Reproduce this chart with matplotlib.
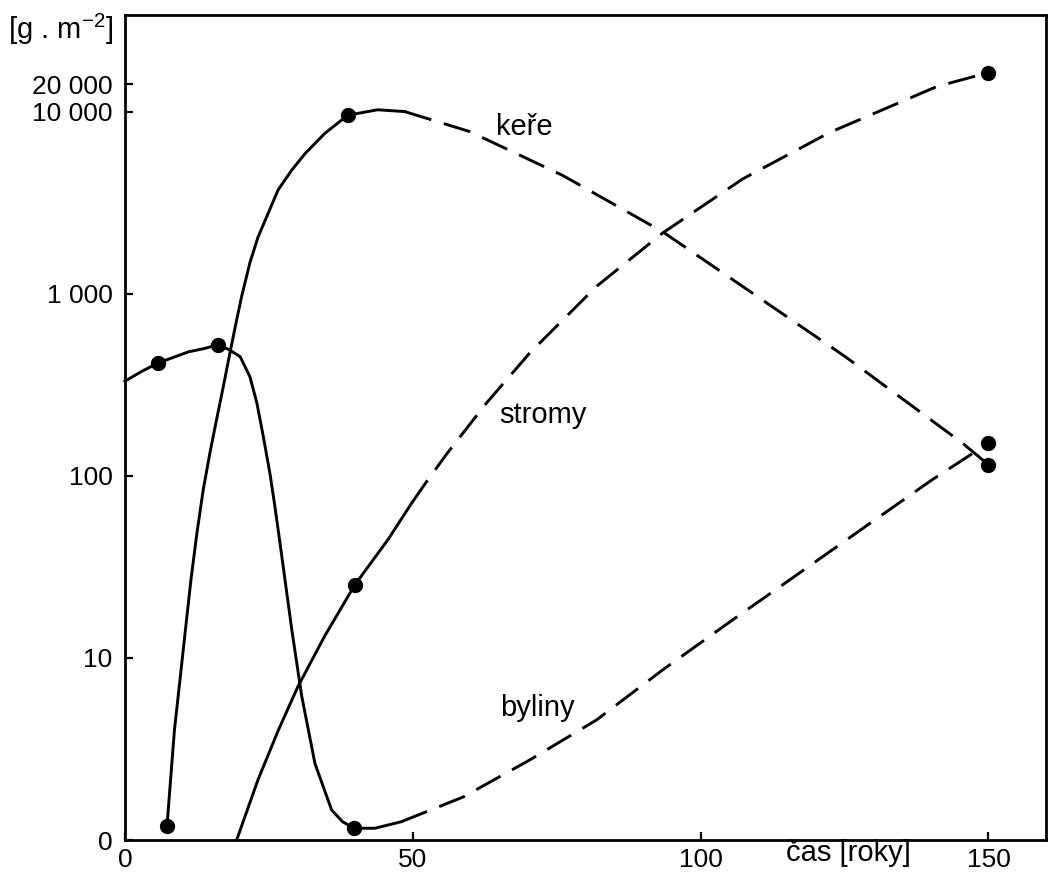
import numpy as np
import matplotlib.pyplot as plt
from matplotlib import font_manager
from matplotlib.ticker import NullLocator

# hodnoty (čas v rocích, biomasa v g.m-2)
byliny_pts_x = [5.8, 16.2, 39.8, 150]
byliny_pts_y = [417, 525, 1.16, 151]
kere_pts_x = [7.3, 38.7, 150]
kere_pts_y = [1.2, 9550, 115]
stromy_pts_x = [39.9, 150]
stromy_pts_y = [25.1, 26800]

# průběh křivek - plná část
byliny_x = [0, 3, 5.8, 11, 13.9, 16.2, 18.2, 20.0, 21.7, 22.9, 24.0, 25.2, 26.0, 26.8,
            29.0, 30.7, 33.0, 35.9, 37.8, 39.8, 43.4, 48.0]
byliny_y = [331, 376, 417, 479, 501, 525, 490, 451, 350, 252, 166, 102, 69.2, 45.7,
            14.1, 6.17, 2.63, 1.46, 1.26, 1.16, 1.16, 1.26]
kere_x = [7.3, 8.59, 9.55, 10.50, 11.46, 12.5, 13.59, 14.76, 15.9, 17.07, 18.23, 19.39,
          20.3, 21.7, 23.1, 26.6, 29.0, 31.3, 34.7, 38.7, 43.9, 48.6]
kere_y = [1.2, 4.02, 7.57, 14.3, 26.9, 48.6, 83.8, 134, 203, 308, 473, 716,
          977, 1479, 2042, 3715, 4786, 5888, 7586, 9550, 10470, 10000]
stromy_x = [19.4, 23.1, 26.6, 30.0, 34.7, 39.9, 45.7, 49.8]
stromy_y = [1, 2.14, 3.98, 6.92, 13.2, 25.1, 44.7, 70.8]

# čárkovaná část (odhad)
byliny_dx = [48.0, 58.7, 70.3, 81.9, 93.4, 105.6, 117.2, 128.8, 140.3, 150]
byliny_dy = [1.26, 1.72, 2.75, 4.56, 8.59, 16.2, 29.3, 53.1, 95.5, 151]
kere_dx = [48.6, 59.9, 76.0, 93.4, 107.3, 125.3, 145.5, 150]
kere_dy = [10000, 7762, 4467, 2188, 1096, 447, 151, 115]
stromy_dx = [49.8, 52.4, 55.9, 62.8, 70.3, 81.9, 93.4, 107.3, 122.4, 141.0, 150]
stromy_dy = [70.8, 93, 132, 251, 472, 1096, 2153, 4266, 7674, 18800, 26800]

yticks = [1, 10, 100, 1000, 10000, 20000]
ytick_labels = ['0', '10', '100', '1 000', '10 000', '20 000']
xticks = [0, 50, 100, 150]
xtick_labels = ['0', '50', '100', '150']

names = {f.name for f in font_manager.fontManager.ttflist}
num_font = 'Liberation Sans Narrow' if 'Liberation Sans Narrow' in names else 'Liberation Sans'
num_size = 21 if num_font == 'Liberation Sans Narrow' else 19
plt.rcParams['font.family'] = ['Liberation Sans', 'DejaVu Sans']
plt.rcParams['mathtext.fontset'] = 'custom'
plt.rcParams['mathtext.rm'] = 'Liberation Sans'
plt.rcParams['mathtext.it'] = 'Liberation Sans'


# osa y: logaritmická, nad 10 000 stlačená
def fwd(y):
    l = np.log10(np.clip(y, 1e-6, None))
    return np.where(l > 4, 4 + (l - 4) * 0.5, l)


def inv(s):
    return 10 ** np.where(s > 4, 4 + (s - 4) / 0.5, s)


fig = plt.figure(figsize=(10.48, 8.76), dpi=100)
ax = fig.add_axes([125 / 1048, 36 / 876, 921 / 1048, 825 / 876])
ax.set_yscale('function', functions=(fwd, inv))
ax.set_xlim(0, 160)
ax.set_ylim(1, 1.15e5)

lw = 2.1
dash = (0, (9.5, 4.5))
for x, y in [(byliny_x, byliny_y), (kere_x, kere_y), (stromy_x, stromy_y)]:
    ax.plot(x, y, color='black', lw=lw, solid_joinstyle='round', clip_on=False)
for x, y in [(byliny_dx, byliny_dy), (kere_dx, kere_dy), (stromy_dx, stromy_dy)]:
    ax.plot(x, y, color='black', lw=lw, linestyle=dash, dash_joinstyle='round')
for x, y in [(byliny_pts_x, byliny_pts_y), (kere_pts_x, kere_pts_y), (stromy_pts_x, stromy_pts_y)]:
    ax.plot(x, y, 'o', color='black', ms=10, zorder=5, clip_on=False)

ax.text(69.4, 8280, 'keře', fontsize=21, ha='center', va='center')
ax.text(72.6, 216, 'stromy', fontsize=21, ha='center', va='center')
ax.text(71.7, 5.3, 'byliny', fontsize=21, ha='center', va='center')

ax.set_yticks(yticks)
ax.set_yticklabels(ytick_labels, fontfamily=num_font, fontsize=num_size)
ax.yaxis.set_minor_locator(NullLocator())
ax.set_xticks(xticks)
ax.set_xticklabels(xtick_labels, fontfamily=num_font, fontsize=num_size)
ax.tick_params(axis='both', direction='in', length=6, width=1.6, color='black')
ax.tick_params(axis='y', pad=9)
ax.tick_params(axis='x', pad=6)

for s in ax.spines.values():
    s.set_linewidth(2.0)

ax.text(0.785, -0.0158, 'čas [roky]', transform=ax.transAxes, fontsize=21,
        ha='center', va='center')
ax.text(-0.013, 0.982, '[g . m$^{-2}$]', transform=ax.transAxes, fontsize=21,
        ha='right', va='center')

fig.savefig('out.png', dpi=100)
